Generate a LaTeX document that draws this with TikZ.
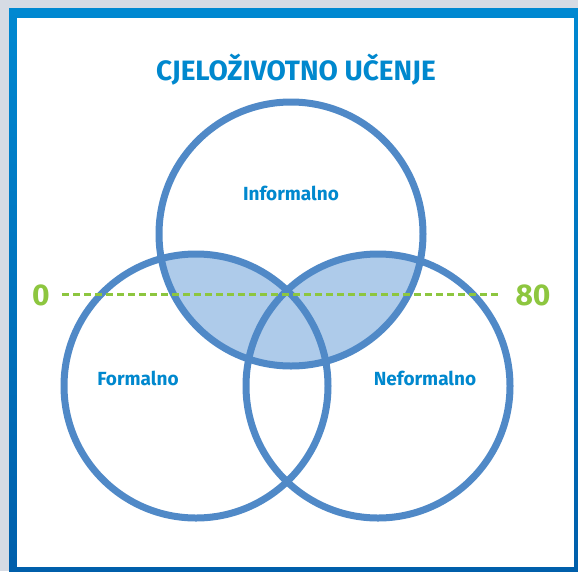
\documentclass[tikz,border=0pt]{standalone}
\usepackage{fontspec}
\setmainfont{Fira Sans}
\usetikzlibrary{positioning}
\definecolor{frametop}{HTML}{0088D1}
\definecolor{framebottom}{HTML}{005EAA}
\definecolor{shadowgray}{HTML}{D6DBE4}
\definecolor{ringblue}{HTML}{5089C7}
\definecolor{overlapblue}{HTML}{AECBEA}
\definecolor{titleblue}{HTML}{0088CE}
\definecolor{scalegreen}{HTML}{8DC63F}
\tikzset{
  heading/.style   = {font=\bfseries\fontsize{28}{32}\selectfont, text=titleblue, anchor=base},
  setname/.style   = {font=\bfseries\fontsize{19}{22}\selectfont, text=titleblue, anchor=base},
  ring/.style      = {draw=ringblue, line width=7pt},
  scalemark/.style = {font=\bfseries\fontsize{30}{34}\selectfont, text=scalegreen, anchor=base},
  scaleline/.style = {draw=scalegreen, line width=3pt, dash pattern=on 7pt off 4pt}
}

\begin{document}
\begin{tikzpicture}[x=1pt,y=-1pt]
    \useasboundingbox (0,0) rectangle (578,571);

    % frame with shadow
    \fill[shadowgray] (0,0) rectangle (578,571);
    \shade[top color=frametop, bottom color=framebottom] (9,8) rectangle (584,577);
    \fill[white] (17,18) rectangle (574,567);

    % centres of the three sets
    \coordinate (ctop)   at (291,234);
    \coordinate (cleft)  at (196,386);
    \coordinate (cright) at (378,386);

    % overlaps with the top set
    \begin{scope}
      \clip (ctop) circle (132);
      \fill[overlapblue] (cleft) circle (132);
      \fill[overlapblue] (cright) circle (132);
    \end{scope}

    \draw[ring] (ctop) circle (132);
    \draw[ring] (cleft) circle (132);
    \draw[ring] (cright) circle (132);

    \node[heading] (title) at (296,80) {CJELOŽIVOTNO UČENJE};

    \node[setname] (informal) at (291,200) {Informalno};
    \node[setname] (formal)   at (138,385) {Formalno};
    \node[setname] (nonformal) at (425,385) {Neformalno};

    % age scale
    \node[scalemark] (zero)   at (41,305)  {0};
    \node[scalemark] (eighty) at (533,305) {80};
    \draw[scaleline, shorten <=9pt, shorten >=10pt] (zero.east) -- (eighty.west);
\end{tikzpicture}
\end{document}
